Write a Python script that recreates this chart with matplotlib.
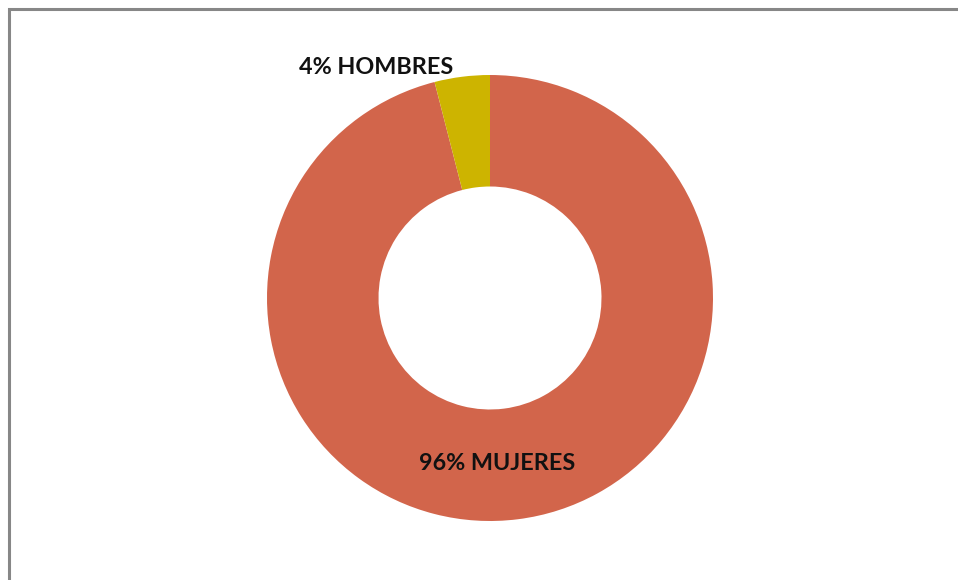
import matplotlib.pyplot as plt
from matplotlib.patches import Rectangle

# datos
categorias = ["MUJERES", "HOMBRES"]
porcentajes = [96, 4]
colores = ["#D2654B", "#CDB400"]

W, H = 958, 580
fig = plt.figure(figsize=(W / 100, H / 100), dpi=100)
fig.patch.set_facecolor("white")

# marco gris (se sale por la derecha y abajo)
fig.patches.append(Rectangle((9 / W, -0.05), 1.2, (H - 9) / H + 0.05,
                             transform=fig.transFigure, fill=False,
                             edgecolor="#878787", linewidth=2.2))

# anillo
cx, cy, r = 490, 298, 223
ax = fig.add_axes([(cx - r) / W, (H - cy - r) / H, 2 * r / W, 2 * r / H])
ax.pie(porcentajes, colors=colores, startangle=90, counterclock=False,
       radius=1.0, wedgeprops=dict(width=0.5, edgecolor="none"))
ax.set_xlim(-1, 1)
ax.set_ylim(-1, 1)
ax.set_aspect("equal")
ax.axis("off")

# etiquetas
fuente = dict(fontsize=16.8, fontweight="bold", family="Lato", color="#111111",
              ha="center", va="center")
ax.text(-0.51, 1.035, f"{porcentajes[1]}% {categorias[1]}", **fuente)
ax.text(0.03, -0.74, f"{porcentajes[0]}% {categorias[0]}", **fuente)

plt.savefig("out.png", dpi=100)
